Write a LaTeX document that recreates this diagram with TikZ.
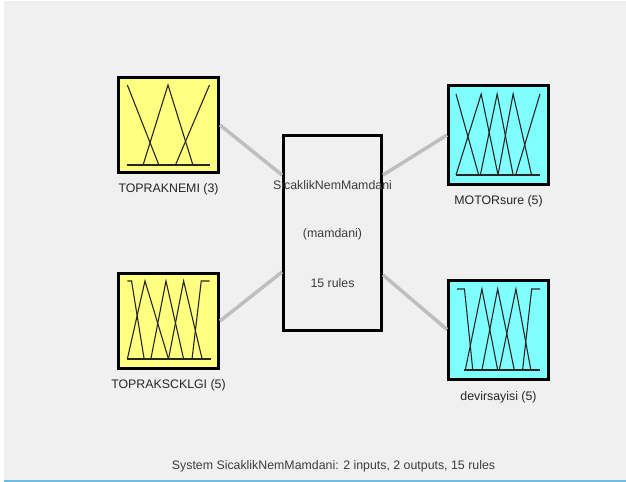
\documentclass[tikz,border=0pt]{standalone}
\usepackage{fontspec}
\setmainfont{Liberation Sans}
\usepackage{tikz}
\usetikzlibrary{positioning,calc}
\definecolor{panelgray}{RGB}{240,240,240}
\definecolor{inyellow}{RGB}{255,255,128}
\definecolor{outcyan}{RGB}{128,255,255}
\definecolor{linkgray}{RGB}{190,190,190}
\definecolor{edgeblue}{RGB}{110,190,225}
\definecolor{textgray}{RGB}{60,60,60}

\begin{document}
\begin{tikzpicture}[x=1bp,y=-1bp,
  varbox/.style={draw,line width=3bp,minimum width=100bp,inner sep=0pt},
  inbox/.style={varbox,fill=inyellow,minimum height=95bp},
  outbox/.style={varbox,fill=outcyan,minimum height=99bp},
  rulebox/.style={draw,line width=3bp,fill=panelgray,minimum width=98bp,minimum height=195bp,inner sep=0pt},
  txt/.style={anchor=base,inner sep=0pt,font=\fontsize{12.4}{14}\selectfont},
  varlabel/.style={txt,text=black!85},
  ruletext/.style={txt,text=textgray},
  mf/.style={line width=1.1bp,black!85},
  link/.style={line width=3.5bp,linkgray}]
  \useasboundingbox (0,0) rectangle (626,482);
    \fill[white](0,0) rectangle (626,482);
    \fill[panelgray](4,1) rectangle (626,480);
    \draw[edgeblue,line width=1.5bp](4,481.2)--(626,481.2); % window edge

    \node[inbox] (in1) at (168.5,125) {};
    \node[inbox] (in2) at (168.5,321) {};
    \node[outbox] (out1) at (498.5,135) {};
    \node[outbox] (out2) at (498.5,329.5) {};
    \node[rulebox] (rule) at (332.5,233) {};

    \node[varlabel] (in1lbl) at ($(in1.south)+(0,18.4)$) {TOPRAKNEMI (3)};
    \node[varlabel] (in2lbl) at ($(in2.south)+(0,18)$) {TOPRAKSCKLGI (5)};
    \node[varlabel] (out1lbl) at ($(out1.south)+(0,18.4)$) {MOTORsure (5)};
    \node[varlabel] (out2lbl) at ($(out2.south)+(0,20)$) {devirsayisi (5)};

    \node[ruletext] (rulename) at ($(rule.center)+(0,-43.5)$) {SicaklikNemMamdani};
    \node[ruletext] (ruletype) at ($(rule.center)+(0,4.8)$) {(mamdani)};
    \node[ruletext] (rulecount) at ($(rule.center)+(0,54.2)$) {15 rules};
    \node[ruletext] (caption) at (333.5,469.4) {System SicaklikNemMamdani: 2 inputs, 2 outputs, 15 rules};

    \coordinate (ruleinA) at ($(rule.west)+(0,-58)$);
    \coordinate (ruleinB) at ($(rule.west)+(0,39)$);
    \coordinate (ruleoutA) at ($(rule.east)+(0,-58)$);
    \coordinate (ruleoutB) at ($(rule.east)+(0,42)$);
    \draw[link](in1.east)--(ruleinA);
    \draw[link](in2.east)--(ruleinB);
    \draw[link](ruleoutA)--(out1.west);
    \draw[link](ruleoutB)--(out2.west);

    \begin{scope}[shift={($(in1.center)+(-42,40)$)},x=83bp,y=80bp] % TOPRAKNEMI
      \draw[mf](0,0)--(1,0);
      \draw[mf](0.01,1)--(0.39,0);
      \draw[mf](0.2,0)--(0.5,1)--(0.8,0);
      \draw[mf](0.59,0)--(1,1);
    \end{scope}
    \begin{scope}[shift={($(in2.center)+(-42,38)$)},x=84bp,y=78bp] % TOPRAKSCKLGI
      \draw[mf](0,0)--(1,0);
      \draw[mf](0.01,1)--(0.06,1)--(0.21,0);
      \draw[mf](0.01,0)--(0.22,1)--(0.5,0);
      \draw[mf](0.29,0)--(0.47,1)--(0.68,0);
      \draw[mf](0.5,0)--(0.68,1)--(0.9,0);
      \draw[mf](0.78,0)--(0.89,1)--(0.99,1);
    \end{scope}
    \begin{scope}[shift={($(out1.center)+(-42.5,40)$)},x=84bp,y=81bp] % MOTORsure
      \draw[mf](0,0)--(1,0);
      \draw[mf](0,1)--(0.27,0);
      \draw[mf](0,0)--(0.3,1)--(0.5,0);
      \draw[mf](0.29,0)--(0.49,1)--(0.68,0);
      \draw[mf](0.5,0)--(0.68,1)--(0.9,0);
      \draw[mf](0.71,0)--(1,1);
    \end{scope}
    \begin{scope}[shift={($(out2.center)+(-41.5,40.5)$)},x=83bp,y=81bp] % devirsayisi
      \draw[mf](0.08,0)--(1,0);
      \draw[mf](0,1)--(0.09,1)--(0.19,0);
      \draw[mf](0.1,0)--(0.3,1)--(0.49,0);
      \draw[mf](0.3,0)--(0.49,1)--(0.69,0);
      \draw[mf](0.51,0)--(0.71,1)--(0.89,0);
      \draw[mf](0.79,0)--(0.9,1)--(1,1);
    \end{scope}
  \end{tikzpicture}
\end{document}
